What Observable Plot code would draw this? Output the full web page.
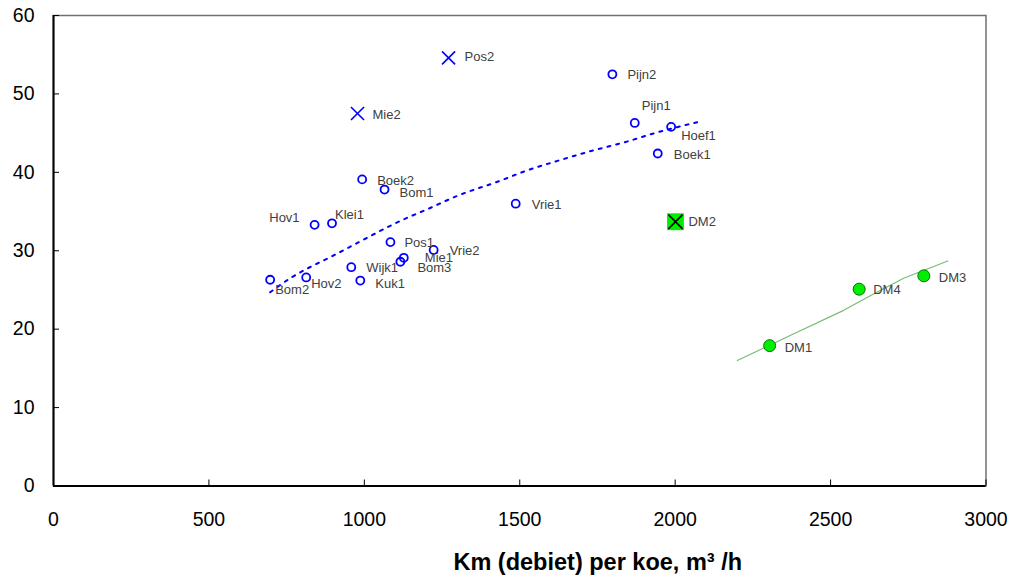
<!DOCTYPE html>
<html><head><meta charset="utf-8">
<script src="https://cdn.jsdelivr.net/npm/d3@7"></script>
<script src="https://cdn.jsdelivr.net/npm/@observablehq/plot@0.6"></script>
<style>body{margin:0;background:#fff;font-family:"Liberation Sans",Arial,sans-serif}</style>
</head><body><div id="chart"></div>
<script>
// ---- data ----
const names  = ["Bom2","Hov2","Hov1","Klei1","Wijk1","Kuk1","Boek2","Bom1","Pos1","Mie1","Bom3","Vrie2","Vrie1","Pijn2","Pijn1","Hoef1","Boek1","Pos2","Mie2","DM1","DM4","DM3","DM2"];
const km     = [697, 813, 840, 896, 958, 987, 993, 1065, 1084, 1127, 1116, 1223, 1487, 1798, 1870, 1987, 1944, 1271, 978, 2304, 2592, 2800, 2001];
const values = [26.3, 26.6, 33.3, 33.5, 27.9, 26.2, 39.1, 37.8, 31.1, 29.1, 28.6, 30.1, 36.0, 52.5, 46.3, 45.8, 42.4, 54.6, 47.5, 17.9, 25.1, 26.8, 33.7];
const groups = ["o","o","o","o","o","o","o","o","o","o","o","o","o","o","o","o","o","x","x","dm","dm","dm","dmx"];

const blueTrendKm     = [697, 762, 820, 891, 997, 1074, 1138, 1203, 1299, 1428, 1535, 1608, 1737, 1834, 1943, 2072];
const blueTrendValues = [24.7, 26.5, 27.8, 29.2, 31.4, 33.0, 34.2, 35.3, 37.0, 38.8, 40.4, 41.3, 42.8, 43.8, 45.1, 46.4];
const greenTrendKm     = [2200, 2370, 2542, 2629, 2735, 2877];
const greenTrendValues = [16.0, 19.2, 22.4, 24.3, 26.5, 28.7];

const xTicks = [0, 500, 1000, 1500, 2000, 2500, 3000];
const yTicks = [0, 10, 20, 30, 40, 50, 60];
const xLabel = "Km (debiet) per koe, m³ /h";

// label placement (pixel offsets, anchor)
const labelPlacement = {
  Bom2:[5,10,"start"], Hov2:[5,6,"start"], Hov1:[-15,-7,"end"], Klei1:[3,-8,"start"],
  Wijk1:[15,1,"start"], Kuk1:[15,3,"start"], Boek2:[15,1,"start"], Bom1:[15,3,"start"],
  Pos1:[14,1,"start"], Mie1:[21,0,"start"], Bom3:[17,6,"start"], Vrie2:[16,1,"start"],
  Vrie1:[16,1,"start"], Pijn2:[15,1,"start"], Pijn1:[7,-17,"start"], Hoef1:[10,9,"start"],
  Boek1:[16,1,"start"], Pos2:[16,-1,"start"], Mie2:[15,1,"start"], DM1:[15,2,"start"],
  DM4:[14,1,"start"], DM3:[15,2,"start"], DM2:[13,0,"start"]
};

const pts = names.map((n, i) => ({name: n, km: km[i], v: values[i], g: groups[i]}));
const blueTrend = blueTrendKm.map((k, i) => ({km: k, v: blueTrendValues[i]}));
const greenTrend = greenTrendKm.map((k, i) => ({km: k, v: greenTrendValues[i]}));

const labelMarks = pts.map(p => {
  const [dx, dy, anchor] = labelPlacement[p.name];
  return Plot.text([p], {x: "km", y: "v", text: "name", dx, dy, textAnchor: anchor,
    fontSize: 13, fill: "#404040"});
});

const fmt = d => String(d);

const chart = Plot.plot({
  width: 1013, height: 578,
  marginLeft: 53, marginRight: 27.5, marginTop: 15, marginBottom: 92.5,
  style: {fontFamily: '"Liberation Sans", Arial, sans-serif', background: "#fff", color: "#000"},
  x: {domain: [0, 3000], label: null},
  y: {domain: [0, 60], label: null},
  marks: [
    Plot.frame({stroke: "#707070", strokeWidth: 1.5}),
    Plot.ruleX([0], {stroke: "#000", strokeWidth: 2}),
    Plot.ruleY([0], {stroke: "#000", strokeWidth: 2}),
    // inward tick marks
    Plot.axisX(xTicks, {tickSize: 6, dy: -6, tickFormat: () => "", strokeWidth: 1, label: null}),
    Plot.axisY(yTicks, {tickSize: 6, dx: 6, tickFormat: () => "", strokeWidth: 1, label: null}),
    // tick labels
    Plot.axisX(xTicks, {tickSize: 0, tickPadding: 26, fontSize: 19.5, tickFormat: fmt, label: null}),
    Plot.axisY(yTicks, {tickSize: 0, tickPadding: 19, fontSize: 19.5, tickFormat: fmt, label: null}),
    Plot.text([xLabel], {frameAnchor: "bottom", dx: 78, dy: 84, fontWeight: "bold", fontSize: 23.5, textAnchor: "middle", fill: "#000"}),
    // trend lines
    Plot.line(blueTrend, {x: "km", y: "v", stroke: "#0000ff", strokeWidth: 2, strokeDasharray: "3,6", curve: "monotone-x"}),
    Plot.line(greenTrend, {x: "km", y: "v", stroke: "#77bb77", strokeWidth: 1.2}),
    // markers
    Plot.dot(pts.filter(d => d.g === "o"), {x: "km", y: "v", r: 4, stroke: "#0000ff", strokeWidth: 1.8, fill: "none"}),
    Plot.dot(pts.filter(d => d.g === "x"), {x: "km", y: "v", r: 6, symbol: "times", stroke: "#0000ff", strokeWidth: 1.6}),
    Plot.dot(pts.filter(d => d.g === "dm"), {x: "km", y: "v", r: 6, fill: "#00ee00", stroke: "#007700", strokeWidth: 1}),
    Plot.dot(pts.filter(d => d.g === "dmx"), {x: "km", y: "v", r: 9.5, symbol: "square", fill: "#00ee00", stroke: "none"}),
    Plot.dot(pts.filter(d => d.g === "dmx"), {x: "km", y: "v", r: 6.5, symbol: "times", stroke: "#000", strokeWidth: 1.6}),
    ...labelMarks
  ]
});
document.getElementById("chart").appendChild(chart);
</script>
</body></html>
